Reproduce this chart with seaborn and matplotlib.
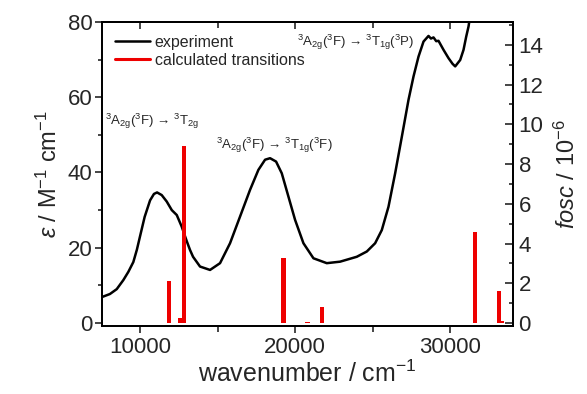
import numpy as np
import pandas as pd
import matplotlib
matplotlib.use("Agg")
import matplotlib.pyplot as plt
import seaborn as sns
from matplotlib.lines import Line2D
from matplotlib.ticker import MultipleLocator

# ---- data ----
wavenumber = [7550, 8060, 8500, 8925, 9250, 9570, 9800, 10000, 10300, 10650,
              10900, 11100, 11400, 11720, 12050, 12370, 12690, 13010, 13226, 13420,
              13871, 14516, 15161, 15806, 16452, 17097, 17634, 18065, 18387, 18774,
              19140, 19570, 20000, 20538, 21183, 22043, 22903, 23978, 24624, 25161,
              25591, 26022, 26452, 26882, 27312, 27634, 27957, 28280, 28602, 28760,
              28925, 29100, 29247, 29570, 29892, 30150, 30323, 30645, 30860, 31032,
              31183, 31300]
epsilon = [6.9, 7.7, 9.0, 11.4, 13.6, 16.2, 19.5, 23.0, 28.2, 32.6,
           34.3, 34.7, 34.0, 32.3, 30.0, 28.7, 25.6, 21.8, 19.4, 17.6,
           15.0, 14.1, 15.9, 21.2, 28.3, 35.4, 40.7, 43.4, 43.8, 42.9,
           39.8, 33.6, 27.4, 21.2, 17.2, 15.9, 16.3, 17.6, 19.0, 21.2,
           24.7, 30.9, 39.8, 49.5, 59.3, 65.5, 70.8, 74.8, 76.3, 75.6,
           75.9, 74.9, 75.0, 72.6, 70.4, 68.9, 68.2, 69.9, 72.6, 76.1,
           78.8, 82.0]

trans_pos = [11890, 12600, 12860, 19250, 20800, 21720, 31610, 33160, 33350]
trans_fosc = [2.13, 0.25, 8.90, 3.29, 0.05, 0.79, 4.60, 1.63, 0.10]

labels = [r"$^3$A$_{\mathrm{2g}}$($^3$F) → $^3$T$_{\mathrm{2g}}$",
          r"$^3$A$_{\mathrm{2g}}$($^3$F) → $^3$T$_{\mathrm{1g}}$($^3$F)",
          r"$^3$A$_{\mathrm{2g}}$($^3$F) → $^3$T$_{\mathrm{1g}}$($^3$P)"]
label_x = [7760, 14900, 20130]
label_y = [53.7, 47.1, 74.6]

# ---- style ----
sns.set_style("ticks")
plt.rcParams["font.family"] = ["Liberation Sans", "DejaVu Sans"]
plt.rcParams["mathtext.fontset"] = "custom"
plt.rcParams["mathtext.rm"] = "Liberation Sans"
plt.rcParams["mathtext.it"] = "Liberation Sans:italic"

fig = plt.figure(figsize=(5.87, 3.94), dpi=100)
ax = fig.add_axes([102/587, 1-326/394, 411/587, 304/394])
ax2 = ax.twinx()

df = pd.DataFrame({"wavenumber": wavenumber, "epsilon": epsilon})
sns.lineplot(data=df, x="wavenumber", y="epsilon", ax=ax, color="black",
             linewidth=1.8, sort=False, legend=False)
ax2.bar(trans_pos, trans_fosc, width=270, color="#ee0000", linewidth=0)

ax.set_xlim(7550, 34050)
ax.set_ylim(-0.8, 80)
ax2.set_ylim(-0.15, 15.15)

ax.set_xticks([10000, 20000, 30000])
ax.xaxis.set_minor_locator(MultipleLocator(5000))
ax.yaxis.set_major_locator(MultipleLocator(20))
ax.yaxis.set_minor_locator(MultipleLocator(10))
ax2.yaxis.set_major_locator(MultipleLocator(2))
ax2.yaxis.set_minor_locator(MultipleLocator(1))

for a in (ax, ax2):
    for s in a.spines.values():
        s.set_linewidth(1.3)
        s.set_color("black")
        s.set_visible(True)

ax.tick_params(axis="x", which="both", direction="out", top=False, width=1.2,
               labelsize=16, pad=3)
ax.tick_params(axis="x", which="major", length=5)
ax.tick_params(axis="x", which="minor", length=4)
ax.tick_params(axis="y", which="both", direction="out", width=1.2, labelsize=16, pad=2)
ax.tick_params(axis="y", which="major", length=5)
ax.tick_params(axis="y", which="minor", length=3)
ax2.tick_params(axis="y", which="both", direction="in", width=1.2, labelsize=16, pad=4)
ax2.tick_params(axis="y", which="major", length=6)
ax2.tick_params(axis="y", which="minor", length=3)

sec = ax.secondary_xaxis("top")
sec.set_xticks([10000, 20000, 30000])
sec.xaxis.set_minor_locator(MultipleLocator(5000))
sec.tick_params(axis="x", which="both", direction="in", labeltop=False, width=1.2)
sec.tick_params(axis="x", which="major", length=5)
sec.tick_params(axis="x", which="minor", length=4)
sec.spines["top"].set_linewidth(1.3)

ax.set_xlabel("wavenumber / cm$^{-1}$", fontsize=18, labelpad=2)
ax.set_ylabel(r"$\it{\varepsilon}$ / M$^{-1}$ cm$^{-1}$", fontsize=17, labelpad=4)
ax2.set_ylabel(r"$\it{fosc}$ / 10$^{-6}$", fontsize=17, labelpad=8)

for t, x, y in zip(labels, label_x, label_y):
    ax.text(x, y, t, fontsize=9.5, ha="left", va="center")

handles = [Line2D([], [], color="black", lw=1.8),
           Line2D([], [], color="#ee0000", lw=2.2)]
leg = ax.legend(handles, ["experiment", "calculated transitions"],
                loc="upper left", bbox_to_anchor=(0.0, 1.0), frameon=False,
                fontsize=11.5, handlelength=2.2, handletextpad=0.3,
                labelspacing=0.2, borderaxespad=0.4)

fig.savefig("out.png", dpi=100)
